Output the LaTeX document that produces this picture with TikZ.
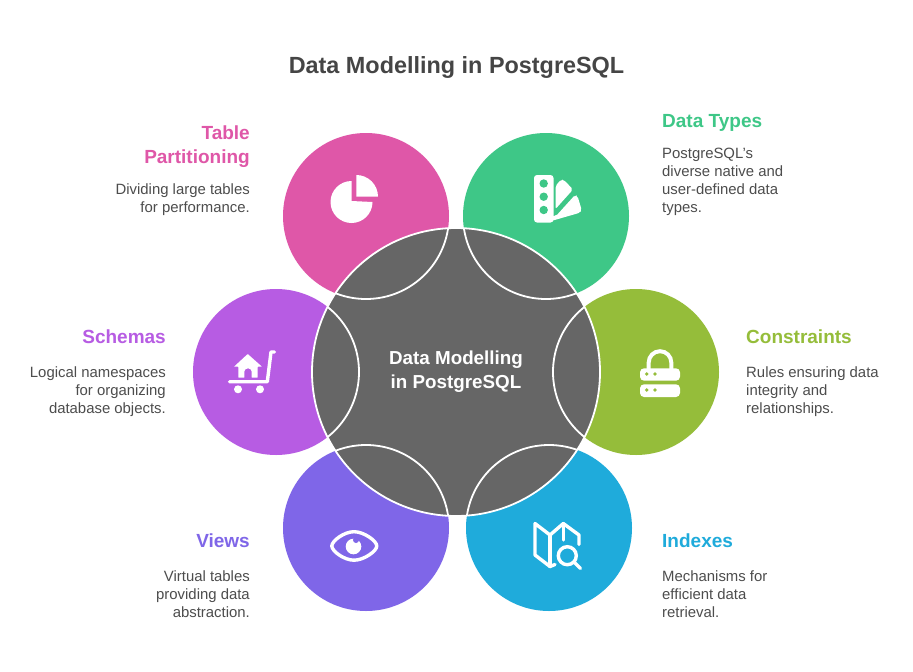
\documentclass[tikz,border=0pt]{standalone}
\usepackage{fontspec}
\setmainfont{Liberation Sans}
\definecolor{cpink}{HTML}{DF57A8}
\definecolor{cgreen}{HTML}{3EC787}
\definecolor{clime}{HTML}{95BD3A}
\definecolor{cblue}{HTML}{1FABDB}
\definecolor{cviolet}{HTML}{7F66E8}
\definecolor{cpurple}{HTML}{B75CE3}
\definecolor{cgray}{HTML}{666666}
\definecolor{ctext}{HTML}{4D4D4D}
\begin{document}
\begin{tikzpicture}[x=1pt,y=-1pt]
  \def\r{83pt}
  \def\rc{144pt}

\tikzstyle{disc}=[circle,minimum size=166pt,inner sep=0pt]
\tikzstyle{arcline}=[draw=white,line width=1.8pt]
\tikzstyle{head}=[font=\fontsize{19}{24}\selectfont\bfseries,inner sep=0pt]
\tikzstyle{desc}=[font=\fontsize{14.9}{18}\selectfont,text=ctext,inner sep=0pt]
\useasboundingbox (0,0) rectangle (913,672);
\fill[white] (0,0) rectangle (913,672);
\node[font=\fontsize{23.4}{29}\selectfont\bfseries,text=black!73,inner sep=0pt,anchor=base] (Title) at (456.5,73) {Data Modelling in PostgreSQL};
\node[disc,fill=cpink] (P1) at (366,216) {};
\node[disc,fill=cgreen] (P2) at (546,216) {};
\node[disc,fill=cpurple] (P3) at (276,372) {};
\node[disc,fill=clime] (P4) at (636,372) {};
\node[disc,fill=cviolet] (P5) at (366,528) {};
\node[disc,fill=cblue] (P6) at (549,528) {};
\node[circle,minimum size=288pt,inner sep=0pt,fill=cgray,arcline,text=white,align=center,font=\fontsize{18.8}{24}\selectfont\bfseries] (C) at (456,372) {Data Modelling\\in PostgreSQL};
\begin{scope}
\clip (C.center) circle (\rc);
\draw[arcline] (P1.center) circle (\r);
\draw[arcline] (P2.center) circle (\r);
\draw[arcline] (P3.center) circle (\r);
\draw[arcline] (P4.center) circle (\r);
\draw[arcline] (P5.center) circle (\r);
\draw[arcline] (P6.center) circle (\r);
\end{scope}
\node[head,text=cpink,anchor=base east,align=right] (H1) at (250,163) {Table\\Partitioning};
\node[desc,anchor=base east,align=right] (D1) at (250,212) {Dividing large tables\\for performance.};
\node[head,text=cgreen,anchor=base west] (H2) at (662,127) {Data Types};
\node[desc,anchor=base west,align=left] (D2) at (662,212) {PostgreSQL's\\diverse native and\\user-defined data\\types.};
\node[head,text=cpurple,anchor=base east] (H3) at (166,343) {Schemas};
\node[desc,anchor=base east,align=right] (D3) at (166,413) {Logical namespaces\\for organizing\\database objects.};
\node[head,text=clime,anchor=base west] (H4) at (746,343) {Constraints};
\node[desc,anchor=base west,align=left] (D4) at (746,413) {Rules ensuring data\\integrity and\\relationships.};
\node[head,text=cviolet,anchor=base east] (H5) at (250,547) {Views};
\node[desc,anchor=base east,align=right] (D5) at (250,617) {Virtual tables\\providing data\\abstraction.};
\node[head,text=cblue,anchor=base west] (H6) at (662,547) {Indexes};
\node[desc,anchor=base west,align=left] (D6) at (662,617) {Mechanisms for\\efficient data\\retrieval.};
% pie
\fill[white] (351.5,181) arc[start angle=90,end angle=360,radius=21pt] -- (351.5,201) -- cycle;
\fill[white] (356.3,175) arc[start angle=90,end angle=0,radius=21.7pt] -- (356.3,196.7) -- cycle;
% palette
\fill[white,rounded corners=3pt] (534,175) rectangle (553.5,222.5);
\fill[white,rounded corners=2pt] (555.5,186) -- (561,179.5) -- (564,180) -- (573,189.5) -- (555.5,209) -- cycle;
\fill[white,rounded corners=2pt] (556,216) -- (575,195) -- (577.5,196) -- (581.7,210) -- (580,212.7) -- (546,222.5) -- (548,216) -- cycle;
\fill[cgreen] (543.7,183.5) circle (4.2pt) (543.7,196.7) circle (4.2pt) (543.7,210) circle (4.2pt);
% cart
\fill[white,rounded corners=0.5pt] (247.7,354) -- (262,366.7) -- (257.7,366.7) -- (257.7,377.7) -- (251.7,377.7) -- (251.7,372) arc[start angle=0,end angle=180,radius=3.7pt] -- (244.3,377.7) -- (238.3,377.7) -- (238.3,366.7) -- (234,366.7) -- cycle;
\draw[white,line width=3.4pt,line cap=round,line join=round] (229.5,381.7) -- (267.3,381.7) -- (271,352) -- (274.5,352);
\fill[white] (238,389.3) circle (4pt) (260,389.3) circle (4pt);
% lock
\draw[white,line width=4pt] (648.7,369) -- (648.7,362.5) arc[start angle=180,end angle=0,radius=11.3pt] -- (671.3,369);
\fill[white,rounded corners=4pt] (640,368.3) rectangle (680,380.7);
\fill[white,rounded corners=4pt] (640,384.3) rectangle (680,397);
\fill[clime] (646.7,374) circle (1.9pt) (655,374) circle (1.9pt) (646.7,390) circle (1.9pt) (655,390) circle (1.9pt);
% eye
\draw[white,line width=3.4pt,line join=round] (331.8,546) .. controls (331.8,541) and (344,531.7) .. (354,531.7) .. controls (364,531.7) and (376.8,541) .. (376.8,546) .. controls (376.8,551) and (364,560.2) .. (354,560.2) .. controls (344,560.2) and (331.8,551) .. (331.8,546) -- cycle;
\fill[white] (353.5,546.5) circle (7.8pt);
\fill[cviolet] (356,540) circle (3pt);
% map
\draw[white,line width=3.4pt,line cap=round,line join=round] (579,544.5) -- (579,535) -- (563.3,523.5) -- (550,535) -- (535,523.5) -- (535,555) -- (550,566.5) -- (555,564.5);
\draw[white,line width=3.4pt,line cap=round] (550,535) -- (550,566.5) (563.3,523.5) -- (563.3,540);
\draw[white,line width=3.4pt,line cap=round] (567.3,555.7) circle (9pt) (574,562) -- (580.5,568.5);
\end{tikzpicture}
\end{document}
